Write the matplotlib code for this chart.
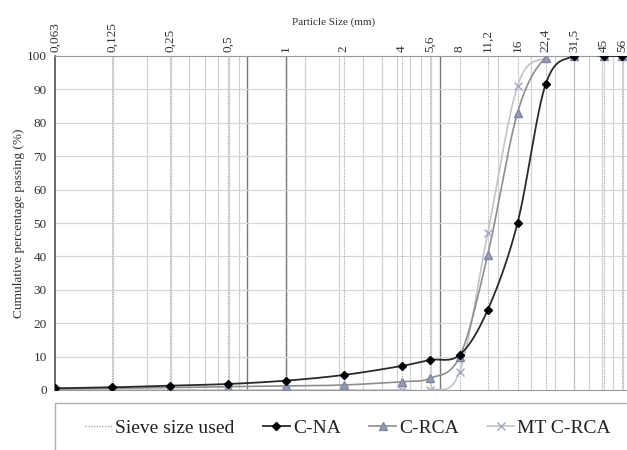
import numpy as np
import matplotlib.pyplot as plt
from matplotlib.patches import Rectangle

plt.rcParams['font.family'] = ['Liberation Serif', 'DejaVu Serif']

sieves = [0.063, 0.125, 0.25, 0.5, 1, 2, 4, 5.6, 8, 11.2, 16, 22.4, 31.5, 45, 56]
sieve_labels = ["0,063", "0,125", "0,25", "0,5", "1", "2", "4", "5,6", "8",
                "11,2", "16", "22,4", "31,5", "45", "56"]
c_na = [0.5, 0.8, 1.3, 1.8, 2.8, 4.5, 7.2, 9.0, 10.5, 24.0, 50.0, 91.5, 100, 100, 100]
c_rca = [0.3, 0.5, 0.7, 1.0, 1.2, 1.5, 2.5, 3.5, 10.0, 40.5, 83.0, 99.5, 100, 100, 100]
mt_c_rca = [0.0, 0.0, 0.0, 0.0, 0.0, 0.0, 0.0, 0.0, 5.5, 47.0, 91.0, 99.5, 100, 100, 100]


def smooth(xs, ys, n=40):
    # Excel-like smoothed line: Catmull-Rom bezier in (log x, y)
    u = np.log10(np.asarray(xs, float))
    v = np.asarray(ys, float)
    pts = np.column_stack([u, v])
    out = []
    m = len(pts)
    t = np.linspace(0, 1, n)[:, None]
    for i in range(m - 1):
        p0 = pts[max(i - 1, 0)]
        p1 = pts[i]
        p2 = pts[i + 1]
        p3 = pts[min(i + 2, m - 1)]
        c1 = p1 + (p2 - p0) / 6
        c2 = p2 - (p3 - p1) / 6
        seg = ((1 - t) ** 3) * p1 + 3 * ((1 - t) ** 2) * t * c1 + 3 * (1 - t) * t ** 2 * c2 + t ** 3 * p2
        out.append(seg)
    out = np.vstack(out)
    return 10 ** out[:, 0], out[:, 1]


fig = plt.figure(figsize=(6.27, 4.5), dpi=100)
ax = fig.add_axes([55 / 627, 60 / 450, 577 / 627, 334 / 450])
ax.set_xscale('log')
ax.set_xlim(0.063, 63)
ax.set_ylim(0, 100)

# excel style log grid starting from 0.063
for n in range(3):
    base = 0.063 * 10 ** n
    for k in range(2, 10):
        ax.axvline(base * k, color='#d2d2d2', lw=0.9, zorder=0)
    if n < 2:
        ax.axvline(base * 10, color='#777777', lw=1.0, zorder=0)
ax.axvline(1, color='#5a5a5a', lw=1.0, zorder=0)
for y in range(10, 100, 10):
    ax.axhline(y, color='#d8d8d8', lw=0.9, zorder=0)

# sieve lines
for s in sieves:
    ax.axvline(s, color='#a8a8a8', lw=0.8, ls=(0, (1, 1)), zorder=1)

x, y = smooth(sieves, mt_c_rca)
ax.plot(x, y, color='#c4c4c4', lw=1.2, zorder=2)
ax.plot(sieves, mt_c_rca, ls='none', marker='x', ms=6, mew=1.0, color='#a2a8c6', zorder=3)
x, y = smooth(sieves, c_rca)
ax.plot(x, y, color='#8e8e8e', lw=1.2, zorder=2)
ax.plot(sieves, c_rca, ls='none', marker='^', ms=6, mfc='#9b9bab', mec='#7e86aa', zorder=3)
x, y = smooth(sieves, c_na)
ax.plot(x, y, color='#2a2a2a', lw=1.3, zorder=4)
ax.plot(sieves, c_na, ls='none', marker='D', ms=4.2, color='black', zorder=5)

ax.xaxis.tick_top()
ax.set_xticks(sieves)
ax.set_xticklabels(sieve_labels, rotation=90, fontsize=9.5, color='#333333')
ax.minorticks_off()
ax.tick_params(axis='x', length=0, pad=3)
ax.set_yticks(range(0, 101, 10))
ax.tick_params(axis='y', length=0, labelsize=9.5, labelcolor='#333333', pad=6)

for side in ['top', 'bottom']:
    ax.spines[side].set_color('#9a9a9a')
ax.spines['left'].set_color('#555555')
ax.spines['left'].set_linewidth(1.2)
ax.spines['right'].set_visible(False)

ax.set_ylabel('Cumulative percentage passing (%)', fontsize=9.5, color='#333333', labelpad=1)
fig.text(334 / 627, 1 - 22 / 450, 'Particle Size (mm)', ha='center', va='center',
         fontsize=8, color='#333333')

# legend box below
fig.patches.append(Rectangle((55 / 627, -0.05), 0.95, 1 - 403 / 450 + 0.05,
                             transform=fig.transFigure, fill=False, ec='#b0b0b0', lw=1.0))
handles = [
    plt.Line2D([], [], color='#a8a8a8', lw=1.0, ls=(0, (1, 1))),
    plt.Line2D([], [], color='#2a2a2a', lw=1.3, marker='D', ms=4, mfc='black', mec='black'),
    plt.Line2D([], [], color='#8e8e8e', lw=1.2, marker='^', ms=6, mfc='#9b9bab', mec='#7e86aa'),
    plt.Line2D([], [], color='#c4c4c4', lw=1.2, marker='x', ms=6, mew=1.0, mec='#a2a8c6'),
]
fig.legend(handles, ['Sieve size used', 'C-NA', 'C-RCA', 'MT C-RCA'], ncol=4,
           loc='center', bbox_to_anchor=(348 / 627, 1 - 428 / 450), frameon=False,
           fontsize=14, handlelength=1.4, handletextpad=0.15, columnspacing=1.45,
           labelcolor='#222222')

fig.savefig('out.png', dpi=100)
